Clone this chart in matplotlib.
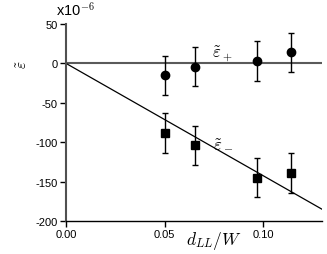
import matplotlib
matplotlib.use('Agg')
import matplotlib.pyplot as plt
import numpy as np

plt.rcParams['font.family'] = ['Liberation Sans', 'DejaVu Sans']
plt.rcParams['mathtext.fontset'] = 'cm'
plt.rcParams['axes.unicode_minus'] = False

# data (strain in units of 1e-6)
d_ratio = [0.050, 0.0655, 0.097, 0.114]
eps_plus = [-15, -4, 3, 14]
eps_plus_err = [25, 25, 25, 25]
eps_minus = [-88, -104, -145, -139]
eps_minus_err = [25, 25, 25, 25]
fit_x = [0.0, 0.13]
fit_y = [0.0, -185.0]

fig = plt.figure(figsize=(3.27, 2.55), dpi=100)
ax = fig.add_axes([0.202, 0.129, 0.783, 0.773])

ax.axhline(0, color='#5a5a5a', lw=1.5, zorder=1)
ax.plot(fit_x, fit_y, color='black', lw=0.9, zorder=1)

ax.errorbar(d_ratio, eps_plus, yerr=eps_plus_err, fmt='o', color='black',
            ms=6, capsize=2.3, elinewidth=1, capthick=1, zorder=3)
ax.errorbar(d_ratio, eps_minus, yerr=eps_minus_err, fmt='s', color='black',
            ms=6.3, capsize=2.3, elinewidth=1, capthick=1, zorder=3)

ax.text(0.0741, 13, r'$\tilde{\varepsilon}_+$', fontsize=12, va='center')
ax.text(0.0745, -101, r'$\tilde{\varepsilon}_-$', fontsize=12, va='center')

ax.set_xlim(0, 0.13)
ax.set_ylim(-200, 50)
ax.set_xticks([0.0, 0.05, 0.10])
ax.set_xticklabels(['0.00', '0.05', '0.10'])
ax.set_yticks([-200, -150, -100, -50, 0, 50])
ax.set_yticklabels(['-200', '-150', '-100', '-50', '0', '50'])
ax.tick_params(labelsize=8, length=4, width=1, direction='out', pad=2)

for s in ['top', 'right']:
    ax.spines[s].set_visible(False)
ax.spines['left'].set_linewidth(1.5)
ax.spines['left'].set_color('#505050')
ax.spines['bottom'].set_linewidth(1.0)

fig.text(0.655, 0.04, r'$d_{LL}/W$', fontsize=12.5, ha='center', va='baseline')
fig.text(0.068, 0.748, r'$\tilde{\varepsilon}$', fontsize=11, rotation=90,
         ha='center', va='center')
fig.text(0.17, 0.925, r'x10$^{\mathsf{-6}}$', fontsize=10.5, ha='left', va='bottom')

fig.savefig('out.png', dpi=100)
